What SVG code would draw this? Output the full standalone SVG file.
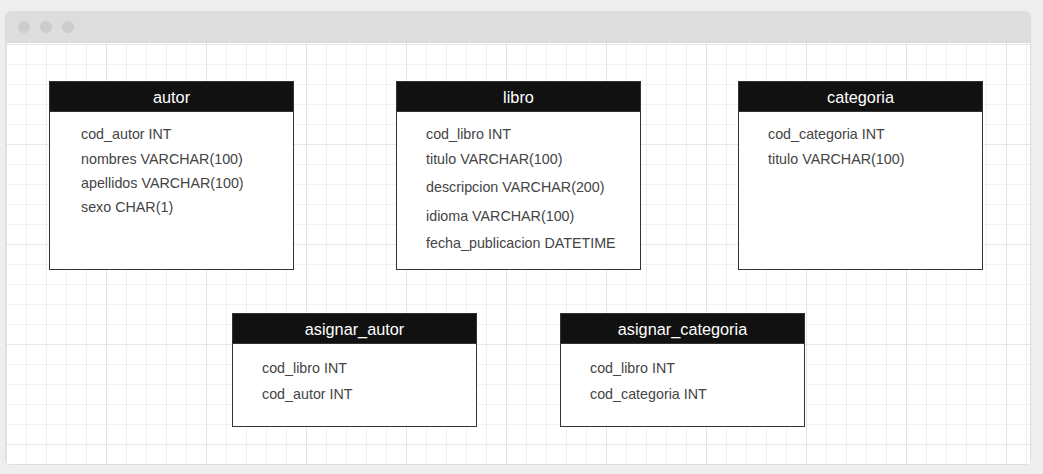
<svg xmlns="http://www.w3.org/2000/svg" width="1043" height="474" viewBox="0 0 1043 474">
<defs>
<pattern id="minor" x="6" y="44" width="20" height="20" patternUnits="userSpaceOnUse">
<path d="M0 0V20M0 0H20" fill="none" stroke="#e6e6e6" stroke-width="1.2"/>
</pattern>
<pattern id="major" x="6" y="44" width="100" height="100" patternUnits="userSpaceOnUse">
<path d="M0 0V100M0 0H100" fill="none" stroke="#dcdcdc" stroke-width="1.2"/>
</pattern>
<clipPath id="content"><rect x="6" y="43" width="1024" height="421"/></clipPath>
</defs>
<style>
.tbl{fill:#fff;stroke:#333;stroke-width:1}
.hdr{fill:#111;stroke:#333;stroke-width:1}
.ht{font-family:"Liberation Sans",Arial,sans-serif;font-size:16.3px;fill:#fff;text-anchor:middle}
.ft{font-family:"Liberation Sans",Arial,sans-serif;font-size:14.3px;fill:#444}
</style>
<rect width="1043" height="474" fill="#eeeeee"/>
<rect x="5" y="11" width="1026" height="454" rx="6" fill="#dddddd"/>
<rect x="6" y="43" width="1024" height="421" fill="#ffffff"/>
<g clip-path="url(#content)">
<rect x="6" y="43" width="1024" height="421" fill="url(#minor)"/>
<rect x="6" y="43" width="1024" height="421" fill="url(#major)"/>
</g>
<circle cx="24" cy="27" r="6" fill="#cccccc"/>
<circle cx="46" cy="27" r="6" fill="#cccccc"/>
<circle cx="68" cy="27" r="6" fill="#cccccc"/>
<g id="connectors"></g>
<g id="autor">
<rect class="tbl" x="49.5" y="81.5" width="244" height="188"/>
<rect class="hdr" x="49.5" y="81.5" width="244" height="30"/>
<text class="ht" x="171.5" y="102.5">autor</text>
<text class="ft" x="81" y="138.5">cod_autor INT</text>
<text class="ft" x="81" y="164">nombres VARCHAR(100)</text>
<text class="ft" x="81" y="187.5">apellidos VARCHAR(100)</text>
<text class="ft" x="81" y="211.5">sexo CHAR(1)</text>
</g>
<g id="libro">
<rect class="tbl" x="396.5" y="81.5" width="244" height="188"/>
<rect class="hdr" x="396.5" y="81.5" width="244" height="30"/>
<text class="ht" x="518.5" y="102.5">libro</text>
<text class="ft" x="426" y="138.5">cod_libro INT</text>
<text class="ft" x="426" y="164">titulo VARCHAR(100)</text>
<text class="ft" x="426" y="192">descripcion VARCHAR(200)</text>
<text class="ft" x="426" y="220.5">idioma VARCHAR(100)</text>
<text class="ft" x="426" y="248">fecha_publicacion DATETIME</text>
</g>
<g id="categoria">
<rect class="tbl" x="738.5" y="81.5" width="244" height="188"/>
<rect class="hdr" x="738.5" y="81.5" width="244" height="30"/>
<text class="ht" x="860.5" y="102.5">categoria</text>
<text class="ft" x="768" y="138.5">cod_categoria INT</text>
<text class="ft" x="768" y="164">titulo VARCHAR(100)</text>
</g>
<g id="asignar_autor">
<rect class="tbl" x="232.5" y="313.5" width="244" height="113"/>
<rect class="hdr" x="232.5" y="313.5" width="244" height="30"/>
<text class="ht" x="354.5" y="334.5">asignar_autor</text>
<text class="ft" x="262" y="373">cod_libro INT</text>
<text class="ft" x="262" y="399">cod_autor INT</text>
</g>
<g id="asignar_categoria">
<rect class="tbl" x="560.5" y="313.5" width="244" height="113"/>
<rect class="hdr" x="560.5" y="313.5" width="244" height="30"/>
<text class="ht" x="682.5" y="334.5">asignar_categoria</text>
<text class="ft" x="590" y="373">cod_libro INT</text>
<text class="ft" x="590" y="399">cod_categoria INT</text>
</g>
</svg>
